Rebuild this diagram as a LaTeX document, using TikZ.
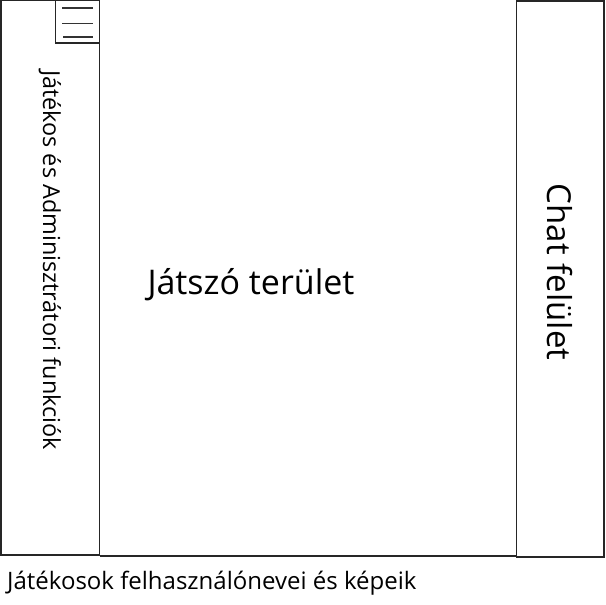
\documentclass[tikz,border=0pt]{standalone}
\usepackage{fontspec}
\setmainfont{Open Sans}
\begin{document}
\begin{tikzpicture}[x=1pt,y=-1pt,
  panel/.style={draw=black!85, line width=1.5pt},
  bar/.style={draw=black!80, line width=1.8pt},
  lbl/.style={inner sep=0pt, text=black}]
\useasboundingbox (0,0) rectangle (605,605);
% left panel
\draw[panel] (0.8,0) rectangle (99.5,555);
% hamburger box
\draw[panel] (55.5,0) rectangle (99.5,43);
\coordinate (h1a) at (62,8); \coordinate (h1b) at (93,8);
\coordinate (h2a) at (62,23.5); \coordinate (h2b) at (93,23.5);
\coordinate (h3a) at (63,37); \coordinate (h3b) at (93,37);
\draw[bar] (h1a) -- (h1b);
\draw[bar] (h2a) -- (h2b);
\draw[bar] (h3a) -- (h3b);
% right panel
\draw[panel] (516.5,0.8) rectangle (603.8,557);
% bottom line of play area
\coordinate (bl) at (99.5,556);
\coordinate (br) at (516.5,556);
\draw[panel] (bl) -- (br);
% texts
\node[lbl, rotate=-90, font=\fontsize{23.4}{28}\selectfont] (lt) at (50,260) {Játékos és Adminisztrátori funkciók};
\node[lbl, font=\fontsize{34}{40}\selectfont] (mt) at (251,285) {Játszó terület};
\node[lbl, rotate=-90, font=\fontsize{33}{40}\selectfont] (ct) at (560,272) {Chat felület};
\node[lbl, anchor=west, font=\fontsize{24}{29}\selectfont] (bt) at (7,583) {Játékosok felhasználónevei és képeik};
\end{tikzpicture}
\end{document}
